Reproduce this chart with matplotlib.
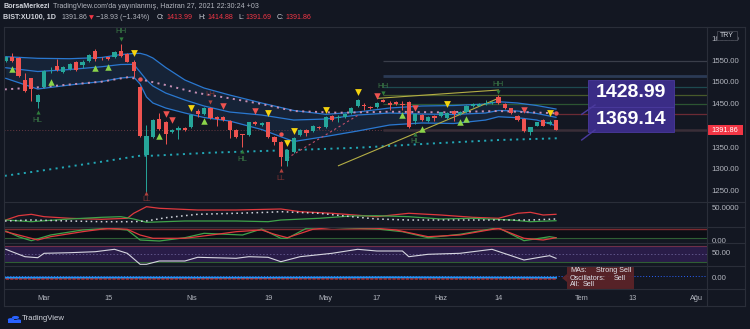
import matplotlib
matplotlib.use('Agg')

import matplotlib.pyplot as plt
from matplotlib.patches import Rectangle, Polygon, Circle
from matplotlib.lines import Line2D
from matplotlib.transforms import blended_transform_factory

plt.rcParams['font.family'] = ['Liberation Sans', 'DejaVu Sans']

# ---- candles (BIST:XU100, 1D) ----
opens = [1550, 1560, 1557.6, 1506.4, 1510, 1456.6, 1491, 1526, 1538.5, 1525.4,
         1531.6, 1548.4, 1540.8, 1550, 1573.6, 1557, 1558.5, 1560, 1573.6, 1566,
         1547, 1491, 1334.2, 1376, 1416.8, 1409.3, 1386.3, 1391.6, 1397, 1397.8,
         1435.2, 1427.6, 1442.8, 1421.4, 1422, 1412.2, 1392.3, 1381, 1380, 1410.6,
         1403, 1409.3, 1376.2, 1364.8, 1320.4, 1341.8, 1380.1, 1391.6, 1390, 1399,
         1399, 1423.7, 1419, 1421.4, 1429.9, 1447.4, 1448.5, 1445, 1445, 1460.5,
         1452.9, 1456.6, 1451, 1456.6, 1412.2, 1426, 1412.2, 1424.4, 1423.7, 1419.8,
         1435.2, 1427.6, 1432.2, 1446.7, 1447.4, 1451.3, 1453.6, 1466.6, 1451.3, 1441.4,
         1423.7, 1416.8, 1387.7, 1401.5, 1414.5, 1404.7, 1413.99]
highs = [1562, 1568, 1560, 1521.8, 1512, 1474, 1529, 1537, 1554, 1539,
         1545, 1550, 1552, 1565, 1577.5, 1560, 1560, 1572, 1589, 1568,
         1552, 1493, 1403, 1417, 1431.3, 1412, 1394, 1401.5, 1399, 1428,
         1439.8, 1445, 1445, 1423, 1424, 1414, 1394, 1383, 1411, 1412,
         1410, 1411, 1378, 1367, 1348, 1376, 1394, 1393, 1404, 1401,
         1424, 1426, 1426, 1430, 1444, 1463, 1454, 1447, 1456, 1463,
         1458, 1459, 1458, 1459, 1430, 1428, 1423, 1426, 1434, 1433,
         1437, 1436, 1449, 1453, 1453, 1460, 1459, 1472, 1453, 1443,
         1426, 1419, 1399, 1411, 1417, 1414, 1414.88]
lows = [1548, 1548, 1514, 1480, 1458.9, 1442.8, 1489, 1522, 1527, 1523,
        1530, 1527, 1533, 1548, 1550.7, 1552, 1553, 1558, 1559, 1547,
        1514, 1375, 1250, 1374, 1391, 1358.7, 1384, 1371, 1389, 1396,
        1422, 1425, 1418, 1401.5, 1412, 1374, 1373, 1352.6, 1378, 1404,
        1401, 1374, 1357, 1309.6, 1309.6, 1339, 1378, 1378.5, 1388, 1395,
        1397, 1412, 1409, 1419, 1428, 1445, 1437.5, 1439, 1443, 1455,
        1437.5, 1449, 1437.5, 1397, 1404.7, 1412, 1410, 1413, 1421, 1418,
        1412, 1425, 1430, 1445, 1446, 1449, 1452, 1452, 1439, 1428,
        1412, 1387, 1380, 1400, 1400, 1403, 1391.69]
closes = [1560, 1550, 1516.3, 1481.8, 1485.7, 1471.9, 1527, 1528, 1528.6, 1537,
          1542.4, 1529.3, 1547, 1563.8, 1554.6, 1556, 1554, 1570, 1561.5, 1548.4,
          1527.7, 1378.5, 1378.5, 1414.5, 1393, 1381.7, 1391.6, 1395.5, 1391, 1426,
          1429, 1442.8, 1419.8, 1416.8, 1414.5, 1392.3, 1374.8, 1380, 1409.3, 1406,
          1408.3, 1376.2, 1364.8, 1330.3, 1345.7, 1373.9, 1391.6, 1384, 1401.5, 1396.9,
          1422, 1414.5, 1422, 1427.6, 1441.4, 1460.5, 1446.7, 1441.4, 1454.3, 1456.6,
          1449, 1450.6, 1450, 1399, 1427.6, 1413.8, 1421.4, 1419.8, 1432.2, 1430.6,
          1427.6, 1433.6, 1446.7, 1451.3, 1451.3, 1454.3, 1456.6, 1454.3, 1441.4, 1429.9,
          1413.8, 1389.3, 1397.8, 1409.3, 1401.5, 1410.6, 1391.86]

# ---- overlays on the price pane ----
ch_idx = [0, 5, 10, 15, 18, 20, 21, 22, 23, 25, 28, 31, 35, 40, 45, 50, 55, 60, 65, 70, 75, 77, 80, 83, 86]
ch_upper = [1559.9, 1556.2, 1555.3, 1558.1, 1564.9, 1567.2, 1567.7, 1563.8, 1556.9, 1535.1, 1506.4, 1488.0,
            1471.9, 1453.6, 1436.4, 1427.6, 1432.9, 1442.1, 1446.7, 1447.8, 1451.3, 1456.6, 1453.6, 1447.8, 1439.8]
ch_mid = [1534.6, 1525.9, 1530.5, 1536.9, 1542.0, 1542.4, 1524.8, 1506.4, 1492.6, 1476.5, 1460.5, 1446.7,
          1432.9, 1426.0, 1414.5, 1416.8, 1426.0, 1430.6, 1428.3, 1427.2, 1430.6, 1436.4, 1435.2, 1429.5, 1420.7]
ch_lower = [1510.3, 1485.7, 1494.9, 1502.9, 1511.0, 1513.3, 1497.2, 1467.4, 1453.6, 1442.1, 1430.6, 1420.3,
            1412.2, 1392.7, 1365.2, 1376.7, 1389.3, 1403.1, 1407.7, 1406.5, 1414.5, 1422.1, 1419.8, 1414.5, 1401.5]

pink_idx = [0, 5, 15, 19, 21, 25, 30, 35, 40, 45, 52, 60, 68, 77, 86]
pink_ma = [1485.0, 1489.6, 1502.5, 1512.6, 1508.0, 1494.9, 1476.5, 1464.4, 1451.3, 1435.2,
           1431.3, 1433.6, 1432.2, 1435.2, 1429.9]
teal_idx = [0, 7, 15, 21, 23, 32, 45, 55, 67, 77, 86]
teal_ma = [1286.7, 1301.4, 1318.8, 1332.6, 1332.6, 1339.5, 1345.7, 1350.9, 1361.0, 1368.6, 1372.5]

sar_idx = [44, 55]
sar_val = [1327, 1425]
trend_lo_idx = [52, 77]
trend_lo = [1309.6, 1464.4]
trend_hi_idx = [58.2, 77]
trend_hi = [1464.4, 1483.4]

level_prices = [1550, 1516.3, 1489.6, 1471.2, 1452.4]
level_colors = ['#3a3e4a', '#2b3a55', '#1d4a50', '#485a2a', '#2c5532']
last_price = 1391.86
target_hi = 1428.99
target_lo = 1369.14

# signals
green_up_idx = [1, 7, 14, 16, 24, 31, 62, 65, 71, 72]
green_up_val = [1530.9, 1501.1, 1534.6, 1536.9, 1377.8, 1412.2, 1426.0, 1393.9, 1410.6, 1416.1]
yellow_dn_idx = [20, 29, 41, 44, 45, 50, 55, 69, 85]
yellow_dn_val = [1569.1, 1442.8, 1431.3, 1361.0, 1389.3, 1436.8, 1478.1, 1450.6, 1431.3]
red_dn_idx = [25, 26, 34, 39, 58, 64, 81]
red_dn_val = [1427.6, 1415.2, 1446.7, 1435.2, 1469.6, 1442.8, 1437.5]
red_dot_idx = [21, 43, 86]
red_dot_val = [1508.0, 1381.7, 1429.9]

pivot_labels = ['HH', 'HL', 'LL', 'LH', 'HL', 'LL', 'HH', 'HL', 'HH']
pivot_idx = [18, 5, 22, 32, 37, 43, 59, 64, 77]
pivot_mark = [1599.8, 1432.2, 1247.6, 1455.0, 1343.4, 1299.0, 1475.8, 1382.4, 1479.5]
pivot_text = [1617.3, 1414.5, 1230.9, 1473.5, 1324.3, 1280.7, 1492.6, 1364.7, 1496.5]

# ---- lower panes ----
dmi_red_idx = [0, 2, 4, 6, 10, 15, 19, 20, 22, 24, 30, 36, 43, 46, 51, 58, 63, 68, 73, 77, 80, 82, 84, 86]
dmi_red = [19.9, 30.9, 34.5, 28.4, 24.3, 21.7, 24.3, 37.1, 54.0, 49.9, 45.5, 45.5, 48.1, 41.2, 37.1, 28.4,
           37.1, 32.7, 26.8, 24.3, 37.1, 39.6, 32.7, 34.5]
dmi_green_idx = [0, 4, 10, 15, 18, 20, 22, 28, 36, 41, 43, 49, 54, 58, 63, 68, 73, 79, 82, 86]
dmi_green = [19.9, 15.6, 22.5, 26.8, 28.4, 22.5, 14.0, 17.4, 17.4, 15.6, 19.9, 24.3, 30.2, 30.9, 28.4,
             22.5, 24.3, 19.9, 15.6, 18.1]
adx_idx = [0, 4, 10, 15, 20, 22, 25, 30, 36, 41, 43, 49, 54, 58, 63, 73, 82, 86]
adx = [17.4, 19.9, 17.4, 15.6, 15.6, 17.4, 25.8, 34.5, 37.1, 39.6, 41.2, 37.1, 28.4, 22.5, 19.9, 19.9, 19.9, 22.5]

stoch_k_idx = [0, 2, 4, 7, 12, 16, 19, 21, 24, 28, 31, 37, 40, 43, 44, 47, 51, 58, 62, 66, 71, 77, 81, 85, 86]
stoch_k = [68.7, 30.7, 4, 42, 75.3, 86.7, 75.3, 8.7, 2, 24, 53.3, 42, 82, 20, 20, 86.7, 93.3, 82, 64, 24,
           46.7, 90.7, 4, 30.7, 24]
stoch_d_idx = [0, 2, 5, 7, 12, 16, 19, 21, 23, 28, 33, 36, 40, 42, 44, 48, 51, 58, 61, 66, 71, 77, 81, 84, 86]
stoch_d = [64, 42, 8.7, 30.7, 64, 86.7, 80, 42, 20, 20, 46.7, 64, 75.3, 46.7, 24, 80, 93.3, 86.7, 75.3,
           30.7, 42, 86.7, 20, 8.7, 24]

rsi_idx = [0, 3, 5, 6, 10, 14, 17, 19, 21, 22, 24, 28, 30, 36, 38, 41, 43, 46, 51, 55, 58, 62, 63, 66,
           71, 76, 81, 84, 85, 86]
rsi = [61, 42.5, 40, 51, 52.5, 55, 61, 51, 23.5, 23.5, 31.75, 31.75, 41, 38.5, 42.5, 41, 30, 42.5, 51, 61,
       56.75, 56.75, 42.5, 48.5, 51, 61, 34.25, 42.5, 45, 38.5]

rate_idx = [0, 20, 40, 60, 75, 86]
rate_blue = [0.05, 0.06, 0.05, 0.08, 0.06, 0.05]
rate_red = [-0.06, -0.06, -0.05, -0.06, -0.06, -0.06]

tick_idx = [6, 16, 29, 41, 50, 58, 68, 77, 90, 98, 108]
tick_labels = ['Mar', '15', 'Nis', '19', 'May', '17', 'Haz', '14', 'Tem', '13', 'Ağu']

# ---- figure ----
W, H = 750, 329
BG = '#131722'
LINE = '#2a2e39'
TXT = '#b2b5be'
UP, DOWN = '#26a69a', '#ef5350'
XLIM = (-0.27, 109.6)

fig = plt.figure(figsize=(W / 100, H / 100), dpi=100, facecolor=BG)


def fx(x):
    return x / W


def fy(y):
    return 1 - y / H


def panel(y0, y1, ylim):
    a = fig.add_axes([fx(4), fy(y1), (707 - 4) / W, (y1 - y0) / H])
    a.set_facecolor(BG)
    a.set_xlim(*XLIM)
    a.set_ylim(*ylim)
    a.set_xticks([])
    a.set_yticks([])
    for s in a.spines.values():
        s.set_visible(False)
    return a


def rlabel(a, val, text, **kw):
    tr = blended_transform_factory(a.transAxes, a.transData)
    a.text(1.0065, val, text, transform=tr, ha='left', va='center',
           fontsize=5.6, color=TXT, clip_on=False, **kw)


def dots(a, xs, ys, color, lw=1.4):
    a.plot(xs, ys, color=color, lw=lw, linestyle=(0, (0.05, 3.25)),
           dash_capstyle='projecting', zorder=2)


def fline(x0, y0, x1, y1, color=LINE, lw=0.8, **kw):
    fig.add_artist(Line2D([fx(x0), fx(x1)], [fy(y0), fy(y1)], color=color, lw=lw, **kw))


# main price pane
ax = panel(27, 202, (1226.3, 1628.1))
ax.fill_between(ch_idx, ch_upper, ch_lower, color='#1b3352', alpha=0.45, lw=0, zorder=1)
for vals in (ch_upper, ch_mid, ch_lower):
    ax.plot(ch_idx, vals, color='#2a78d0', lw=0.9, zorder=2)
dots(ax, pink_idx, pink_ma, '#c58fb4')
dots(ax, teal_idx, teal_ma, '#22a7b5')

ax.plot(sar_idx, sar_val, color='#c2506a', lw=0.8, ls=(0, (2, 2.5)), zorder=2)
ax.plot(trend_lo_idx, trend_lo, color='#b4ae45', lw=0.8, zorder=2)
ax.plot(trend_hi_idx, trend_hi, color='#b4ae45', lw=0.8, zorder=2)

for p, c in zip(level_prices, level_colors):
    ax.hlines(p, 59, XLIM[1], color=c, lw=2.0 if p == 1516.3 else 0.9, zorder=1)
ax.hlines(target_hi, 86.3, XLIM[1], color='#6b2a34', lw=0.9, zorder=1)
ax.hlines(last_price, XLIM[0], XLIM[1], color='#6a3a42', lw=0.7, ls=(0, (1, 2)), zorder=1)
ax.hlines(last_price, 59, XLIM[1], color='#3a2e38', lw=1.8, zorder=1)

xs = list(range(len(opens)))
cols = [UP if c >= o else DOWN for o, c in zip(opens, closes)]
ax.vlines(xs, lows, highs, colors=cols, lw=0.7, zorder=3)
ax.bar(xs, [max(abs(c - o), 1.3) for o, c in zip(opens, closes)],
       bottom=[min(o, c) for o, c in zip(opens, closes)], width=0.66, color=cols, lw=0, zorder=4)

ax.scatter(green_up_idx, green_up_val, marker='^', s=22, color='#8bd44a', lw=0, zorder=5)
ax.scatter(yellow_dn_idx, yellow_dn_val, marker='v', s=24, color='#f5d30f', lw=0, zorder=5)
ax.scatter(red_dn_idx, red_dn_val, marker='v', s=22, color='#ef5350', lw=0, zorder=5)
ax.scatter(red_dot_idx, red_dot_val, marker='o', s=10, color='#ef5350', lw=0, zorder=5)

for lab, i, pm, pt in zip(pivot_labels, pivot_idx, pivot_mark, pivot_text):
    green = lab.startswith('H')
    mcol = '#2f7d3c' if green else '#b0423f'
    tcol = '#3b7a47' if green else '#7e3434'
    ax.scatter([i], [pm], marker='v' if lab in ('HH', 'LH') else '^', s=9, color=mcol, lw=0, zorder=5)
    ax.text(i, pt, lab, ha='center', va='center', fontsize=5.6, color=tcol, zorder=5)

# 1400 sits under the last-price tag, so it is not drawn
for p in [1600, 1550, 1500, 1450, 1350, 1300, 1250]:
    rlabel(ax, p, f'{p:.2f}')

# DMI / ADX pane
ax1 = panel(202, 227, (2, 66))
ax1.plot(dmi_red_idx, dmi_red, color='#e0393e', lw=0.9)
ax1.plot(dmi_green_idx, dmi_green, color='#3fa34a', lw=0.9)
dots(ax1, adx_idx, adx, '#d1d4dc', lw=1.1)
rlabel(ax1, 50, '50.0000')

# stochastic pane
ax2 = panel(227, 243, (-11.3, 95.3))
ax2.axhspan(20, 80, color='#0c0e15', lw=0)
ax2.axhline(80, color='#7e2b30', lw=1.0)
ax2.axhline(20, color='#2f5e34', lw=0.8)
ax2.plot(stoch_k_idx, stoch_k, color='#3fa34a', lw=0.9)
ax2.plot(stoch_d_idx, stoch_d, color='#e0393e', lw=0.9)
rlabel(ax2, 0, '0.00')

# RSI pane
ax3 = panel(243, 266, (19.25, 76.75))
ax3.axhspan(30, 70, color='#291c48', lw=0)
ax3.axhline(70, color='#6e2f4a', lw=0.8)
ax3.axhline(30, color='#2f5e34', lw=0.8)
ax3.axhline(50, color='#5e5488', lw=0.7, ls=(0, (1.5, 2)))
ax3.plot(rsi_idx, rsi, color='#d6d6e0', lw=0.8)
rlabel(ax3, 50, '50.00')

# rating pane
ax4 = panel(266, 289, (-0.93, 1.07))
ax4.axhline(0.2, color='#2962ff', lw=0.7, ls=(0, (1, 2)))
ax4.plot(rate_idx, rate_blue, color='#2196f3', lw=1.4)
ax4.plot(rate_idx, rate_red, color='#e0393e', lw=0.8, ls=(0, (3, 1)))
rlabel(ax4, 0, '0.00')

# time axis
axt = panel(289, 292, (0, 1))
axt.set_xticks(tick_idx)
axt.set_xticklabels(tick_labels)
axt.tick_params(axis='x', length=0, pad=2.5, labelsize=5.3, labelcolor=TXT)

# frame and separators
for y in (27, 202, 227, 243, 266, 289, 306):
    fline(4, y, 745, y)
for x in (4, 707, 745):
    fline(x, 27, x, 306)

# price tags and boxes
fig.add_artist(Rectangle((fx(707.5), fy(135)), 35 / W, 10 / H, transform=fig.transFigure,
                         color='#f23645', lw=0))
fig.text(fx(725), fy(130), '1391.86', ha='center', va='center', fontsize=5.3, color='white')
fig.add_artist(Rectangle((fx(717), fy(40)), 20 / W, 9 / H, transform=fig.transFigure,
                         facecolor=BG, edgecolor='#434651', lw=0.6))
fig.text(fx(727), fy(35.5), 'TRY', ha='center', va='center', fontsize=5, color='#d1d4dc')

fline(581.7, 114.3, 595, 105, color='#4b3b9e', lw=1.0)
fline(581.7, 140, 595, 130, color='#4b3b9e', lw=1.0)
for y0, y1, txt in ((80, 106.5, f'{target_hi:.2f}'), (107, 132, f'{target_lo:.2f}')):
    fig.add_artist(Rectangle((fx(588), fy(y1)), 86 / W, (y1 - y0) / H, transform=fig.transFigure,
                             facecolor='#3a2c86', edgecolor='#4a3a9e', lw=0.6))
    fig.text(fx(631), fy((y0 + y1) / 2 - 0.5), txt, ha='center', va='center', fontsize=14,
             fontweight='bold', color='white')

# rating summary box
fig.add_artist(Polygon([(fx(562), fy(278)), (fx(567), fy(274)), (fx(567), fy(282))],
                       closed=True, transform=fig.transFigure, color='#5c2428', lw=0))
fig.add_artist(Rectangle((fx(567), fy(289.5)), 67 / W, 23 / H, transform=fig.transFigure,
                         color='#5c2428', alpha=0.92, lw=0))
for y, left in ((271, 'MAs:'), (278.3, 'Oscillators:'), (285, 'All:')):
    fig.text(fx(570), fy(y), left, ha='left', va='center', fontsize=5.2, color='#e0e3eb')
for y, right, x in ((271, 'Strong Sell', 596), (278.3, 'Sell', 614), (285, 'Sell', 583)):
    fig.text(fx(x), fy(y), right, ha='left', va='center', fontsize=5.2, color='#e0e3eb')

# header
HC = '#d1d4dc'
HS = 5.1
fig.text(fx(3), fy(6.7), 'BorsaMerkezi', ha='left', va='center', fontsize=HS, fontweight='bold', color=HC)
fig.text(fx(53), fy(6.7), "TradingView.com'da yayınlanmış, Haziran 27, 2021 22:30:24 +03",
         ha='left', va='center', fontsize=HS, color=TXT)
fig.text(fx(3), fy(17.3), 'BIST:XU100, 1D', ha='left', va='center', fontsize=HS, fontweight='bold', color=HC)
fig.text(fx(62), fy(17.3), '1391.86', ha='left', va='center', fontsize=HS, color=TXT)
fig.text(fx(89), fy(17.3), '▼', ha='left', va='center', fontsize=4.6, color='#f23645',
         family=['DejaVu Sans'])
fig.text(fx(95.5), fy(17.3), '−18.93 (−1.34%)', ha='left', va='center', fontsize=HS, color=TXT)
for x0, lab, x1, val in ((157, 'O:', 166.5, '1413.99'), (198, 'H:', 207, '1414.88'),
                         (238, 'L:', 245.5, '1391.69'), (277, 'C:', 286, '1391.86')):
    fig.text(fx(x0), fy(17.3), lab, ha='left', va='center', fontsize=HS, color=HC)
    fig.text(fx(x1), fy(17.3), val, ha='left', va='center', fontsize=HS, color='#f23645')

# TradingView logo
for cx, cy, r in ((11, 319.5, 3.2), (15.5, 317.5, 3.6), (18.5, 320.5, 2.6)):
    fig.add_artist(Circle((fx(cx), fy(cy)), r / W, transform=fig.transFigure, color='#2962ff', lw=0))
fig.add_artist(Rectangle((fx(8), fy(323)), 13 / W, 3.5 / H, transform=fig.transFigure, color='#2962ff', lw=0))
fig.text(fx(22), fy(319), 'TradingView', ha='left', va='center', fontsize=5.6, color=HC)

fig.savefig('out.png', dpi=100, facecolor=BG)
